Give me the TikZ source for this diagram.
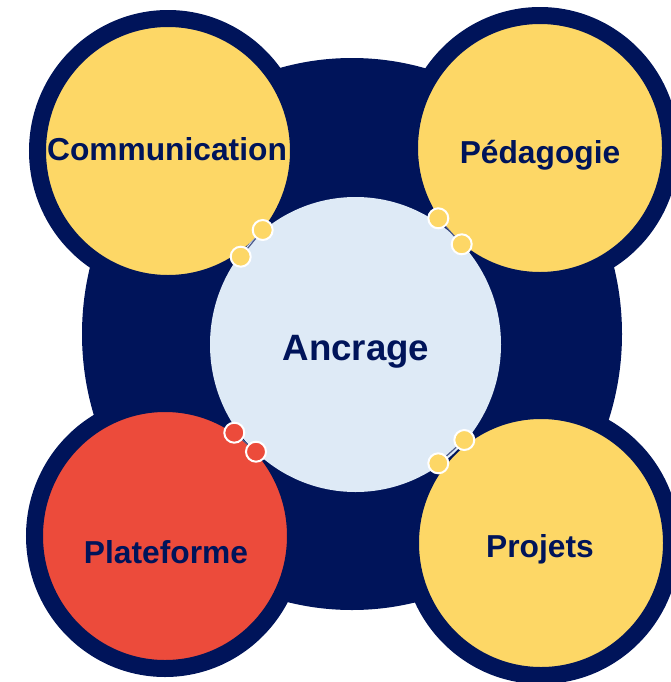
\documentclass[tikz,border=0pt]{standalone}
\usepackage{fontspec}
\setmainfont{Liberation Sans}
\usetikzlibrary{shapes.geometric}
\definecolor{deep navy}{HTML}{00145A}
\definecolor{sun yellow}{HTML}{FDD766}
\definecolor{coral red}{HTML}{EC4B3B}
\definecolor{pale blue}{HTML}{DEEAF6}

\begin{document}
\begin{tikzpicture}[x=0.75pt, y=-0.75pt]
            \tikzset{petal/.style={ellipse, draw=deep navy, fill=#1, line width=12.75pt, minimum width=195.75pt, minimum height=198.75pt, inner sep=0pt}}
            \tikzset{joint/.style={circle, draw=white, fill=#1, line width=1.5pt, minimum size=15pt, inner sep=0pt}}
            \tikzset{tag/.style={anchor=base, text=deep navy, inner sep=0pt, font={\bfseries\fontsize{23.8}{28}\selectfont}}}
            \tikzset{link/.style={draw=deep navy!70, line width=0.9pt}}
            \useasboundingbox (0, 0) rectangle (671, 682);
            \fill[deep navy] (352, 334) ellipse [x radius=270, y radius=276];
            \node[petal=sun yellow] (comm) at (168, 151) {};
            \node[petal=sun yellow] (peda) at (540, 148) {};
            \node[petal=coral red] (plat) at (165, 536) {};
            \node[petal=sun yellow] (proj) at (541, 543) {};
            \node[ellipse, fill=pale blue, minimum width=218.25pt, minimum height=221.25pt, inner sep=0pt] (hub) at (355.5, 344.5) {};
            
            \node[joint=sun yellow] (comm a) at (262.7, 230) {};
            \node[joint=sun yellow] (comm b) at (240.7, 256.7) {};
            \node[joint=sun yellow] (peda a) at (438.3, 218.3) {};
            \node[joint=sun yellow] (peda b) at (461.7, 244.3) {};
            \node[joint=coral red] (plat a) at (234.3, 432.7) {};
            \node[joint=coral red] (plat b) at (256, 451.7) {};
            \node[joint=sun yellow] (proj a) at (464.3, 440) {};
            \node[joint=sun yellow] (proj b) at (438.3, 463.3) {};
            \draw[link] (comm a) -- (comm b);
            \draw[link] (peda a) -- (peda b);
            \draw[link] (plat a) -- (plat b);
            \draw[link] (proj a) -- (proj b);
            
            \node[tag] (comm label) at (167, 160) {Communication};
            \node[tag] (peda label) at (540, 163) {Pédagogie};
            \node[tag] (plat label) at (166, 563) {Plateforme};
            \node[tag] (proj label) at (540, 557) {Projets};
            \node[tag, font={\bfseries\fontsize{27.5}{32}\selectfont}] (hub label) at (356, 360) {Ancrage};
        \end{tikzpicture}
\end{document}
